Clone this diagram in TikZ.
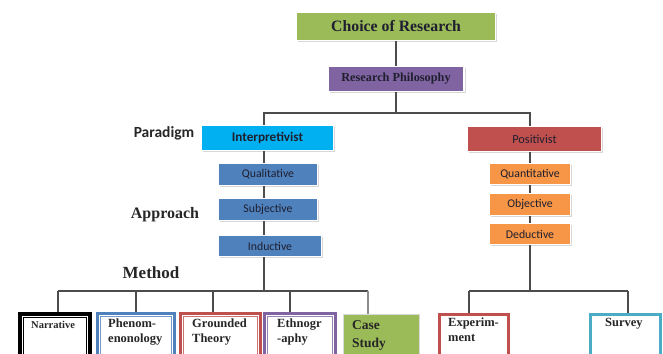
\documentclass[tikz,border=0pt]{standalone}
\usepackage{fontspec}
\setmainfont{Liberation Serif}
\newfontfamily\calib{Carlito}
\usetikzlibrary{shadows}
\definecolor{cgreen}{HTML}{9BBB59}
\definecolor{cpurple}{HTML}{8064A2}
\definecolor{ccyan}{HTML}{00B0F0}
\definecolor{cblue}{HTML}{4F81BD}
\definecolor{cred}{HTML}{C0504D}
\definecolor{corange}{HTML}{F79646}
\definecolor{cteal}{HTML}{4BACC6}
\definecolor{ctext}{HTML}{1F1F2F}
\begin{document}
\begin{tikzpicture}[x=1pt,y=-1pt,
  topbox/.style={draw=white, line width=1.2pt, inner sep=0pt, text=ctext,
    drop shadow={shadow xshift=1.5pt, shadow yshift=-1.5pt, fill=black!30}},
  smallbox/.style={topbox, font=\calib\fontsize{11.8}{13}\selectfont},
  conn/.style={draw=black!70, line width=1.2pt},
  lbl/.style={inner sep=0pt, text=black!85},
  bbox/.style={draw=#1, line width=3pt, fill=white, anchor=north, inner sep=0pt},
  binner/.style={draw=#1, line width=0.9pt},
  btext/.style={inner sep=0pt, anchor=north west, align=left, text=black!85,
    font=\bfseries\fontsize{12.5}{15}\selectfont}
]
\useasboundingbox (0,0) rectangle (663,353);
\clip (0,0) rectangle (663,353);

% top
\node[topbox, fill=cgreen, minimum width=199pt, minimum height=28pt] (choice) at (396,26.5)
  {\bfseries\fontsize{15.8}{18}\selectfont Choice of Research};
\node[topbox, fill=cpurple, minimum width=136pt, minimum height=25pt] (phil) at (396,79)
  {\bfseries\fontsize{12.3}{14}\selectfont Research Philosophy};

% left column
\node[topbox, fill=ccyan, minimum width=132pt, minimum height=25pt] (interp) at (267.5,138)
  {\calib\bfseries\fontsize{13.2}{15}\selectfont Interpretivist};
\node[smallbox, fill=cblue, minimum width=99pt, minimum height=22pt] (qual) at (268,174.5) {Qualitative};
\node[smallbox, fill=cblue, minimum width=99pt, minimum height=22pt] (subj) at (268,209.5) {Subjective};
\node[smallbox, fill=cblue, minimum width=103pt, minimum height=21pt] (induct) at (270,246) {Inductive};

% right column
\node[topbox, fill=cred, minimum width=134pt, minimum height=25pt] (pos) at (534.5,139)
  {\calib\fontsize{12.3}{14}\selectfont Positivist};
\node[smallbox, fill=corange, minimum width=81pt, minimum height=21pt] (quant) at (530,174) {Quantitative};
\node[smallbox, fill=corange, minimum width=81pt, minimum height=22pt] (obj) at (530,204.5) {Objective};
\node[smallbox, fill=corange, minimum width=81pt, minimum height=21pt] (ded) at (530,234) {Deductive};

% labels
\node[lbl, font=\calib\bfseries\fontsize{15.5}{17}\selectfont] (paradigm) at (164,133) {Paradigm};
\node[lbl, font=\bfseries\fontsize{16}{18}\selectfont] (approach) at (165,215) {Approach};
\node[lbl, font=\bfseries\fontsize{17}{19}\selectfont] (method) at (151,273) {Method};

% bottom boxes
\node[bbox=black, line width=4pt, minimum width=70pt, minimum height=55pt] (nar) at (55,312) {};
\draw[binner=black, line width=1.2pt] ([shift={(5.5,5.5)}]nar.north west) rectangle ([shift={(-5.5,0)}]nar.south east);
\node[bbox=cblue, minimum width=77pt, minimum height=55pt] (phen) at (136,311.5) {};
\draw[binner=cblue!80] ([shift={(4.5,4.5)}]phen.north west) rectangle ([shift={(-4.5,0)}]phen.south east);
\node[bbox=cred, minimum width=80pt, minimum height=55pt] (grnd) at (220.5,311.5) {};
\draw[binner=cred!80] ([shift={(4.5,4.5)}]grnd.north west) rectangle ([shift={(-4.5,0)}]grnd.south east);
\node[bbox=cpurple, minimum width=71pt, minimum height=55pt] (eth) at (300,311.5) {};
\draw[binner=cpurple!80] ([shift={(4.5,4.5)}]eth.north west) rectangle ([shift={(-4.5,0)}]eth.south east);
\node[draw=black!15, line width=1pt, fill=cgreen, anchor=north, minimum width=76pt, minimum height=55pt] (case) at (381.5,313.5) {};
\node[bbox=cred, minimum width=69pt, minimum height=55pt] (exp) at (474,312.5) {};
\node[bbox=cteal, minimum width=70pt, minimum height=55pt] (surv) at (625.5,312.5) {};

\node[btext, font=\bfseries\fontsize{10.5}{12}\selectfont] (narT) at (31,321) {Narrative};
\node[btext] (phenT) at (108,319) {Phenom-\\enonology};
\node[btext] (grndT) at (192,319) {Grounded\\Theory};
\node[btext] (ethT) at (277,319) {Ethnogr\\-aphy};
\node[btext, font=\bfseries\fontsize{13.5}{18}\selectfont] (caseT) at (352,320) {Case\\Study};
\node[btext] (expT) at (448,318) {Experim-\\ment};
\node[btext] (survT) at (605,318) {Survey};

% connectors top
\coordinate (jL) at (264,113);
\coordinate (jR) at (530,113);
\draw[conn] (choice) -- (phil);
\draw[conn] (phil.south) -- (phil.south |- jL);
\draw[conn] (interp.north -| jL) -- (jL) -- (jR) -- (pos.north -| jR);
\draw[conn] (interp.south -| jL) -- (qual.north -| jL);
\draw[conn] (qual.south -| jL) -- (subj.north -| jL);
\draw[conn] (subj.south -| jL) -- (induct.north -| jL);
\draw[conn] (pos.south -| jR) -- (quant.north -| jR);
\draw[conn] (quant.south -| jR) -- (obj.north -| jR);
\draw[conn] (obj.south -| jR) -- (ded.north -| jR);

% method branches
\coordinate (mL) at (264,291);
\coordinate (mR) at (530,291);
\coordinate (dNar) at (58,291);
\coordinate (dPhen) at (136,291);
\coordinate (dGrnd) at (213,291);
\coordinate (dEth) at (290,291);
\coordinate (dCase) at (368,291);
\coordinate (dExp) at (469,291);
\coordinate (dSurv) at (628,291);
\draw[conn] (induct.south -| mL) -- (mL);
\draw[conn] (dNar) -- (dCase);
\draw[conn] (dNar) -- (dNar |- nar.north);
\draw[conn] (dPhen) -- (dPhen |- phen.north);
\draw[conn] (dGrnd) -- (dGrnd |- grnd.north);
\draw[conn] (dEth) -- (dEth |- eth.north);
\draw[conn, draw=black!45] (dCase) -- (dCase |- case.north);
\draw[conn] (ded.south -| mR) -- (mR);
\draw[conn] (dExp) -- (dSurv);
\draw[conn] (dExp) -- (dExp |- exp.north);
\draw[conn] (dSurv) -- (dSurv |- surv.north);
\end{tikzpicture}
\end{document}
